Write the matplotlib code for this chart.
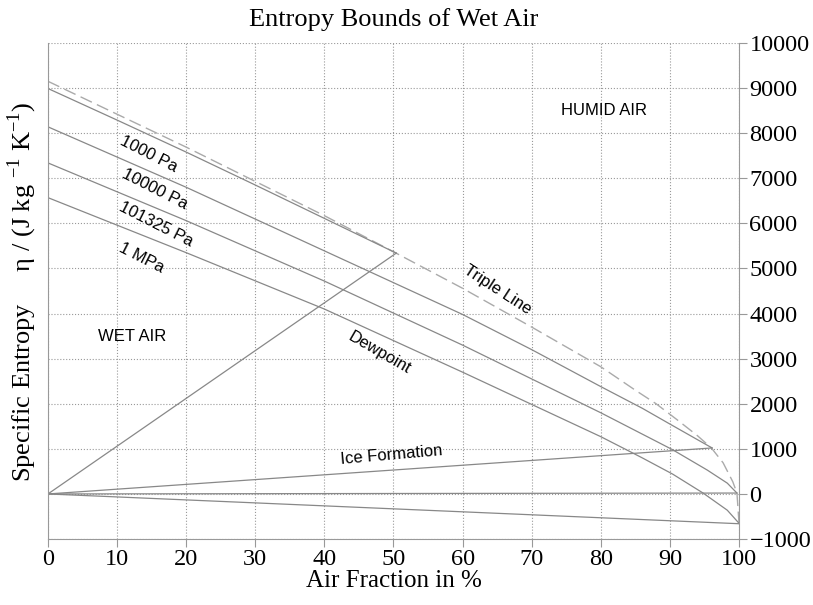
import numpy as np
import matplotlib.pyplot as plt

# Datos
# Linea triple (discontinua)
x_triple = [0, 10, 20, 30, 40, 50, 60, 70, 80, 85, 88, 91, 94, 96, 97.7, 99.1, 99.7, 100]
y_triple = [9150, 8420, 7690, 6930, 6170, 5370, 4560, 3700, 2820, 2300, 2000, 1650, 1290, 1020, 690, 270, 20, -650]

# Puntos de rocio por presion
x_1000 = [0, 10, 20, 30, 40, 50.4]
y_1000 = [8990, 8290, 7580, 6850, 6110, 5340]

x_10000 = [0, 20, 40, 60, 70, 80, 86, 90, 96.1]
y_10000 = [8140, 6800, 5390, 3980, 3200, 2380, 1900, 1550, 1020]

x_101325 = [0, 20, 40, 60, 80, 90.4, 95.4, 98.3, 99.7]
y_101325 = [7340, 6060, 4720, 3300, 1800, 980, 530, 240, 20]

x_1mpa = [0, 20, 40, 60, 80, 86, 90.4, 94.8, 98.3, 100]
y_1mpa = [6570, 5350, 4100, 2700, 1270, 800, 440, 20, -360, -650]

# Lineas de formacion de hielo (desde el origen)
x_ice = [[0, 50.4], [0, 96.1], [0, 99.7], [0, 100]]
y_ice = [[0, 5340], [0, 1020], [0, 20], [0, -660]]

xticks = list(range(0, 101, 10))
yticks = list(range(-1000, 10001, 1000))

serif = 'Liberation Serif'
sans = 'Liberation Sans'
plt.rcParams['mathtext.fontset'] = 'custom'
plt.rcParams['mathtext.rm'] = serif

fig = plt.figure(figsize=(8.13, 6.05), dpi=100)
ax = fig.add_axes([0.059, 0.109, 0.850, 0.820])

gris = '#888888'
ax.plot(x_triple, y_triple, color='#aaaaaa', lw=1.0, dashes=(9, 4))
for xs, ys in [(x_1000, y_1000), (x_10000, y_10000), (x_101325, y_101325), (x_1mpa, y_1mpa)]:
    ax.plot(xs, ys, color=gris, lw=0.9)
for xs, ys in zip(x_ice, y_ice):
    ax.plot(xs, ys, color=gris, lw=0.9)

ax.set_xlim(0, 100)
ax.set_ylim(-1000, 10000)
ax.set_xticks(xticks)
ax.set_yticks(yticks)
ax.yaxis.tick_right()
ax.grid(True, color='#999999', linestyle=':', lw=0.8)
for s in ax.spines.values():
    s.set_color('#999999')
ax.spines['top'].set_visible(False)
ax.tick_params(axis='both', direction='out', length=6, color='#999999', labelsize=17.5, pad=1.5)
for lab in ax.get_xticklabels() + ax.get_yticklabels():
    lab.set_fontfamily(serif)

ax.set_title('Entropy Bounds of Wet Air', fontsize=19, family=serif, pad=12)
ax.set_xlabel('Air Fraction in %', fontsize=18, family=serif, labelpad=0)
fig.text(0.027, 0.517, r'Specific Entropy     η / (J kg $^{\mathregular{-1}}$ K$^{\mathregular{-1}}$)',
         rotation=90, fontsize=19, family=serif, ha='center', va='center')

ax.text(14.6, 7530, '1000 Pa', rotation=-27, fontsize=12, family=sans, ha='center', va='center')
ax.text(15.4, 6760, '10000 Pa', rotation=-27, fontsize=12, family=sans, ha='center', va='center')
ax.text(15.6, 5980, '101325 Pa', rotation=-27, fontsize=12, family=sans, ha='center', va='center')
ax.text(13.5, 5240, '1 MPa', rotation=-27, fontsize=12, family=sans, ha='center', va='center')
ax.text(65, 4530, 'Triple Line', rotation=-33, fontsize=12, family=sans, ha='center', va='center')
ax.text(48, 3130, 'Dewpoint', rotation=-30, fontsize=12, family=sans, ha='center', va='center')
ax.text(49.7, 870, 'Ice Formation', rotation=5, fontsize=12, family=sans, ha='center', va='center')
ax.text(80.4, 8510, 'HUMID AIR', fontsize=12, family=sans, ha='center', va='center')
ax.text(12.2, 3490, 'WET AIR', fontsize=12, family=sans, ha='center', va='center')

fig.savefig('out.png', dpi=100)
